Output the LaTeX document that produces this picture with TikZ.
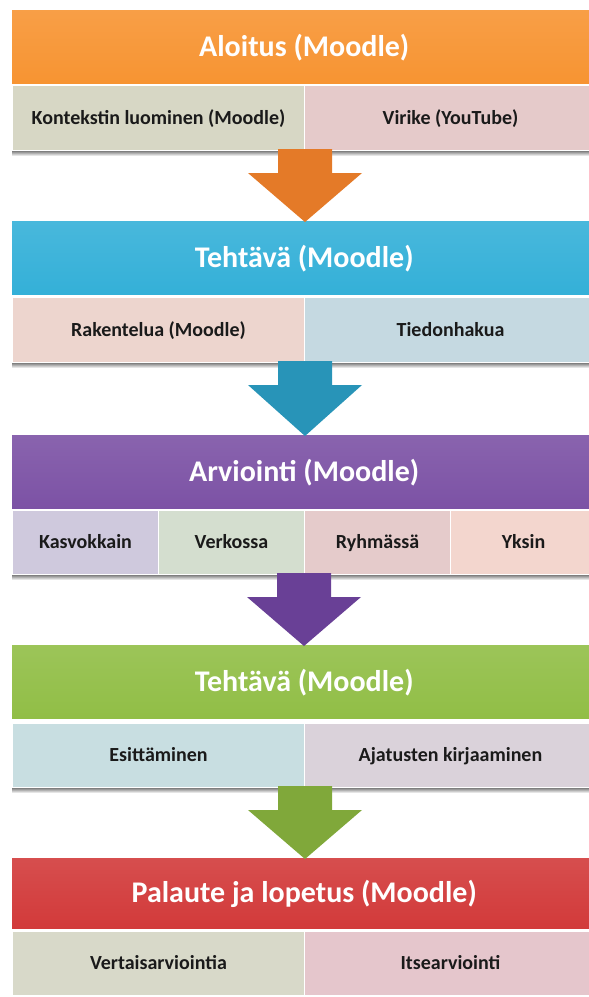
\documentclass[tikz,border=0pt]{standalone}
\usepackage{fontspec}
\setmainfont{Carlito}
\usetikzlibrary{calc}
\definecolor{orH}{RGB}{247,148,50}
\definecolor{orA}{RGB}{228,122,40}
\definecolor{blH}{RGB}{52,176,216}
\definecolor{blA}{RGB}{40,148,184}
\definecolor{puH}{RGB}{124,82,165}
\definecolor{puA}{RGB}{105,64,150}
\definecolor{grH}{RGB}{145,190,70}
\definecolor{grA}{RGB}{128,168,58}
\definecolor{reH}{RGB}{210,58,58}
\definecolor{cA}{HTML}{D7D7C5}
\definecolor{cB}{HTML}{E5CACA}
\definecolor{cC}{HTML}{EDD5CE}
\definecolor{cD}{HTML}{C5D9E1}
\definecolor{cE}{HTML}{CFC9DD}
\definecolor{cF}{HTML}{D4DECF}
\definecolor{cG}{HTML}{E5CBCB}
\definecolor{cH}{HTML}{F3D6CE}
\definecolor{cI}{HTML}{C8DEE1}
\definecolor{cJ}{HTML}{DAD2DA}
\definecolor{cK}{HTML}{D8D9C9}
\definecolor{cL}{HTML}{E5C6CC}
\definecolor{txt}{HTML}{1A1A1A}
\newcommand\hdrfont{\fontsize{30}{34}\selectfont\bfseries}
\newcommand\cellfont{\fontsize{20}{23}\selectfont\bfseries}
\newcommand\flowarrow[3]{%
  \fill[#3] ($(#1)+(-27,-2)$) -- ($(#1)+(27,-2)$) -- ($(#1)+(27,22)$)
    -- ($(#1)+(57,22)$) -- ($(#1 |- #2)+(0,1)$) -- ($(#1)+(-57,22)$)
    -- ($(#1)+(-27,22)$) -- cycle;}
\newcommand\rowshadow[2]{%
  \shade[top color=black!45, bottom color=white] ($(#1)+(0,0.5)$) rectangle ($(#2)+(0,5)$);}
\begin{document}
\begin{tikzpicture}[x=1pt,y=-1pt,
  hdrbox/.style={rectangle, inner sep=0pt, anchor=north west, minimum width=584pt,
    top color=#1!90!white, bottom color=#1, minimum height=73pt,
    text=white, font=\hdrfont, text height=19pt, text depth=0pt},
  cellbox/.style={rectangle, inner sep=0pt, anchor=north west, fill=#1,
    draw=white, line width=1pt, text=txt, font=\cellfont,
    text height=12.8pt, text depth=0pt}]
\useasboundingbox (0,0) rectangle (589,997);
\clip (0,0) rectangle (589,997);
\fill[white] (0,0) rectangle (589,997);

% Block 1
\node[hdrbox=orH] (h1) at (12,10) {Aloitus (Moodle)};
\node[cellbox=cA, minimum width=292pt, minimum height=65pt] (c11) at (12,85) {Kontekstin luominen (Moodle)};
\node[cellbox=cB, minimum width=292pt, minimum height=65pt] (c12) at (304,85) {Virike (YouTube)};
\rowshadow{c11.south west}{c12.south east}

% Block 2
\node[hdrbox=blH] (h2) at (12,221) {Tehtävä (Moodle)};
\node[cellbox=cC, minimum width=292pt, minimum height=65pt] (c21) at (12,297) {Rakentelua (Moodle)};
\node[cellbox=cD, minimum width=292pt, minimum height=65pt] (c22) at (304,297) {Tiedonhakua};
\rowshadow{c21.south west}{c22.south east}

% Block 3
\node[hdrbox=puH] (h3) at (12,435) {Arviointi (Moodle)};
\node[cellbox=cE, minimum width=146pt, minimum height=64pt] (c31) at (12,510) {Kasvokkain};
\node[cellbox=cF, minimum width=146pt, minimum height=64pt] (c32) at (158,510) {Verkossa};
\node[cellbox=cG, minimum width=146pt, minimum height=64pt] (c33) at (304,510) {Ryhmässä};
\node[cellbox=cH, minimum width=146pt, minimum height=64pt] (c34) at (450,510) {Yksin};
\rowshadow{c31.south west}{c34.south east}

% Block 4
\node[hdrbox=grH] (h4) at (12,645) {Tehtävä (Moodle)};
\node[cellbox=cI, minimum width=292pt, minimum height=64pt] (c41) at (12,723) {Esittäminen};
\node[cellbox=cJ, minimum width=292pt, minimum height=64pt] (c42) at (304,723) {Ajatusten kirjaaminen};
\rowshadow{c41.south west}{c42.south east}

% Block 5
\node[hdrbox=reH, minimum height=70pt] (h5) at (12,858) {Palaute ja lopetus (Moodle)};
\node[cellbox=cK, minimum width=292pt, minimum height=64pt] (c51) at (12,931) {Vertaisarviointia};
\node[cellbox=cL, minimum width=292pt, minimum height=64pt] (c52) at (304,931) {Itsearviointi};

% Arrows
\flowarrow{c11.south east}{h2.north}{orA}
\flowarrow{c21.south east}{h3.north}{blA}
\flowarrow{c33.south west}{h4.north}{puA}
\flowarrow{c41.south east}{h5.north}{grA}
\end{tikzpicture}
\end{document}
